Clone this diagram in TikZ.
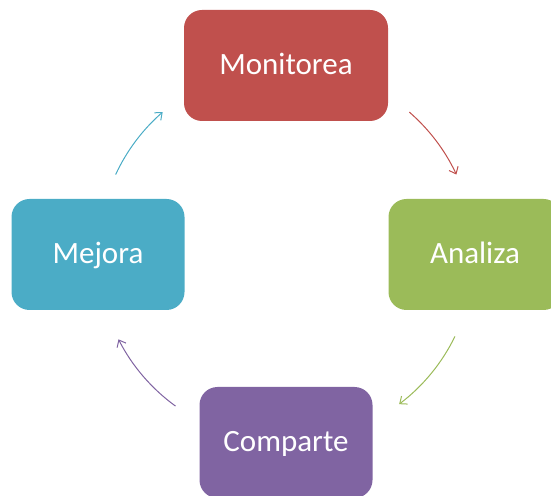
\documentclass[tikz,border=0pt]{standalone}
\usepackage{fontspec}
\setmainfont{Carlito}
\usepackage{xcolor}
\usetikzlibrary{arrows.meta,calc}
\definecolor{rojo}{HTML}{C0504D}
\definecolor{verde}{HTML}{9BBB59}
\definecolor{morado}{HTML}{8064A2}
\definecolor{turquesa}{HTML}{4BACC6}
\begin{document}
\begin{tikzpicture}[x=1pt,y=1pt,
    caja/.style={rectangle,rounded corners=18pt,minimum width=173pt,minimum height=111pt,
      inner sep=0pt,text height=20pt,text depth=1.3pt,text=white,font=\fontsize{31}{37}\selectfont},
    flecha/.style={line width=1pt,-{Straight Barb[length=6pt,width=10pt]}}]
    \useasboundingbox (0,0) rectangle (551,495);
    \coordinate (O) at (286,241);
    \node[caja,fill=rojo,minimum width=204pt] (monitorea) at (286,429.5) {Monitorea};
    \node[caja,fill=verde] (analiza) at (475,240.5) {Analiza};
    \node[caja,fill=morado] (comparte) at (286,52.5) {Comparte};
    \node[caja,fill=turquesa] (mejora) at (98,240.5) {Mejora};
    \coordinate (mA) at ($(O)+(49:188)$);
    \coordinate (aC) at ($(O)+(-26:188)$);
    \coordinate (cM) at ($(O)+(-126:188)$);
    \coordinate (mM) at ($(O)+(155:188)$);
    \draw[flecha,rojo] (mA) arc[start angle=49,end angle=25,radius=188];
    \draw[flecha,verde] (aC) arc[start angle=-26,end angle=-53,radius=188];
    \draw[flecha,morado] (cM) arc[start angle=-126,end angle=-153,radius=188];
    \draw[flecha,turquesa] (mM) arc[start angle=155,end angle=131,radius=188];
\end{tikzpicture}
\end{document}
